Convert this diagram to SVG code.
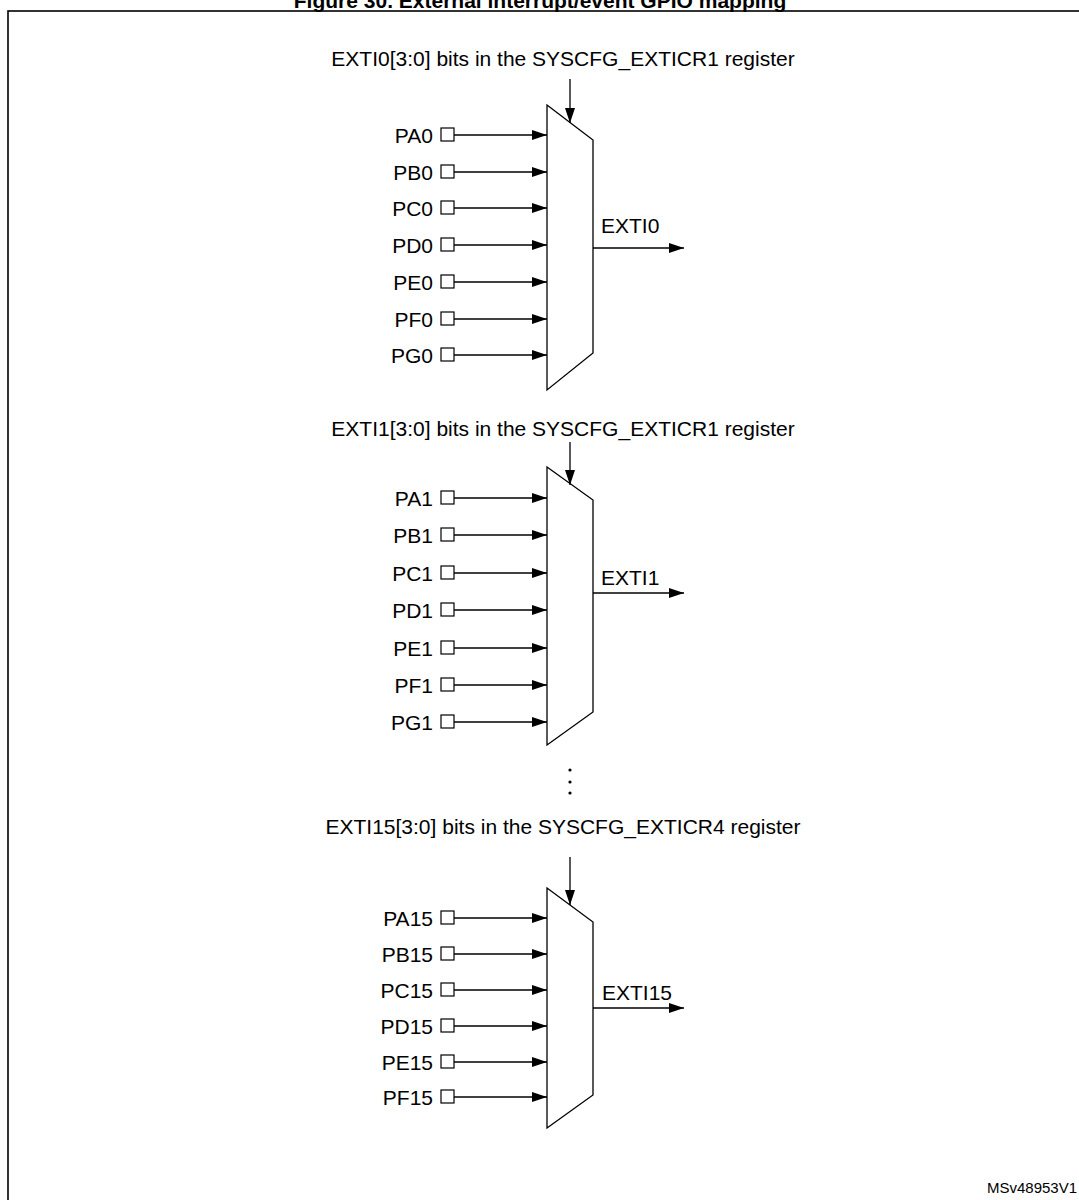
<svg xmlns="http://www.w3.org/2000/svg" width="1079" height="1200" viewBox="0 0 1079 1200">
<style>
text{font-family:"Liberation Sans",Arial,sans-serif;font-size:21px;fill:#000}
.pin{text-anchor:end}
.lbl{text-anchor:middle}
.title{font-weight:bold;text-anchor:middle}
.ln{stroke:#000;stroke-width:1.3;fill:none}
.box{stroke:#000;stroke-width:1.2;fill:#fff}
.mux{stroke:#000;stroke-width:1.3;fill:#fff}
.id{font-size:15px}
</style>
<defs>
<marker id="ah" viewBox="0 0 15 10" refX="15" refY="5" markerWidth="15" markerHeight="10" markerUnits="userSpaceOnUse" orient="auto">
<path d="M0,0 L15,5 L0,10 Z" fill="#000"/>
</marker>
</defs>
<rect x="8" y="11" width="1100" height="1220" fill="none" stroke="#000" stroke-width="1.6"/>
<text class="title" x="540" y="8">Figure 30. External interrupt/event GPIO mapping</text>

<g id="mux0">
<text class="lbl" x="563" y="66">EXTI0[3:0] bits in the SYSCFG_EXTICR1 register</text>
<path class="mux" d="M547,105 L593,140 L593,353 L547,390 Z"/>
<text x="601" y="233">EXTI0</text>
<g id="pins0">
<text class="pin" x="433" y="143">PA0</text><rect class="box" x="441" y="128" width="13" height="13"/>
<text class="pin" x="433" y="180">PB0</text><rect class="box" x="441" y="165" width="13" height="13"/>
<text class="pin" x="433" y="216">PC0</text><rect class="box" x="441" y="201" width="13" height="13"/>
<text class="pin" x="433" y="253">PD0</text><rect class="box" x="441" y="238" width="13" height="13"/>
<text class="pin" x="433" y="290">PE0</text><rect class="box" x="441" y="275" width="13" height="13"/>
<text class="pin" x="433" y="327">PF0</text><rect class="box" x="441" y="312" width="13" height="13"/>
<text class="pin" x="433" y="363">PG0</text><rect class="box" x="441" y="348" width="13" height="13"/>
</g>
</g>

<g id="mux1">
<text class="lbl" x="563" y="436">EXTI1[3:0] bits in the SYSCFG_EXTICR1 register</text>
<path class="mux" d="M547,467 L593,500 L593,712 L547,745 Z"/>
<text x="601" y="585">EXTI1</text>
<g id="pins1">
<text class="pin" x="433" y="506">PA1</text><rect class="box" x="441" y="491" width="13" height="13"/>
<text class="pin" x="433" y="543">PB1</text><rect class="box" x="441" y="528" width="13" height="13"/>
<text class="pin" x="433" y="581">PC1</text><rect class="box" x="441" y="566" width="13" height="13"/>
<text class="pin" x="433" y="618">PD1</text><rect class="box" x="441" y="603" width="13" height="13"/>
<text class="pin" x="433" y="656">PE1</text><rect class="box" x="441" y="641" width="13" height="13"/>
<text class="pin" x="433" y="693">PF1</text><rect class="box" x="441" y="678" width="13" height="13"/>
<text class="pin" x="433" y="730">PG1</text><rect class="box" x="441" y="715" width="13" height="13"/>
</g>
</g>

<g id="dots" fill="#000">
<circle cx="570" cy="770" r="1.6"/><circle cx="570" cy="782" r="1.6"/><circle cx="570" cy="793" r="1.6"/>
</g>

<g id="mux15">
<text class="lbl" x="563" y="834">EXTI15[3:0] bits in the SYSCFG_EXTICR4 register</text>
<path class="mux" d="M547,888 L593,922 L593,1095 L547,1128 Z"/>
<text x="602" y="1000">EXTI15</text>
<g id="pins15">
<text class="pin" x="433" y="926">PA15</text><rect class="box" x="441" y="911" width="13" height="13"/>
<text class="pin" x="433" y="962">PB15</text><rect class="box" x="441" y="947" width="13" height="13"/>
<text class="pin" x="433" y="998">PC15</text><rect class="box" x="441" y="983" width="13" height="13"/>
<text class="pin" x="433" y="1034">PD15</text><rect class="box" x="441" y="1019" width="13" height="13"/>
<text class="pin" x="433" y="1070">PE15</text><rect class="box" x="441" y="1055" width="13" height="13"/>
<text class="pin" x="433" y="1105">PF15</text><rect class="box" x="441" y="1090" width="13" height="13"/>
</g>
</g>

<g id="connectors" class="ln" marker-end="url(#ah)">
<line x1="570" y1="79" x2="570" y2="123"/>
<line x1="593" y1="248" x2="684" y2="248"/>
<line x1="454" y1="135" x2="547" y2="135"/>
<line x1="454" y1="172" x2="547" y2="172"/>
<line x1="454" y1="208" x2="547" y2="208"/>
<line x1="454" y1="245" x2="547" y2="245"/>
<line x1="454" y1="282" x2="547" y2="282"/>
<line x1="454" y1="319" x2="547" y2="319"/>
<line x1="454" y1="355" x2="547" y2="355"/>

<line x1="570" y1="442" x2="570" y2="485"/>
<line x1="593" y1="593" x2="684" y2="593"/>
<line x1="454" y1="498" x2="547" y2="498"/>
<line x1="454" y1="535" x2="547" y2="535"/>
<line x1="454" y1="573" x2="547" y2="573"/>
<line x1="454" y1="610" x2="547" y2="610"/>
<line x1="454" y1="648" x2="547" y2="648"/>
<line x1="454" y1="685" x2="547" y2="685"/>
<line x1="454" y1="722" x2="547" y2="722"/>

<line x1="570" y1="857" x2="570" y2="905"/>
<line x1="593" y1="1008" x2="684" y2="1008"/>
<line x1="454" y1="918" x2="547" y2="918"/>
<line x1="454" y1="954" x2="547" y2="954"/>
<line x1="454" y1="990" x2="547" y2="990"/>
<line x1="454" y1="1026" x2="547" y2="1026"/>
<line x1="454" y1="1062" x2="547" y2="1062"/>
<line x1="454" y1="1097" x2="547" y2="1097"/>
</g>

<text class="id" x="987" y="1193">MSv48953V1</text>
</svg>
